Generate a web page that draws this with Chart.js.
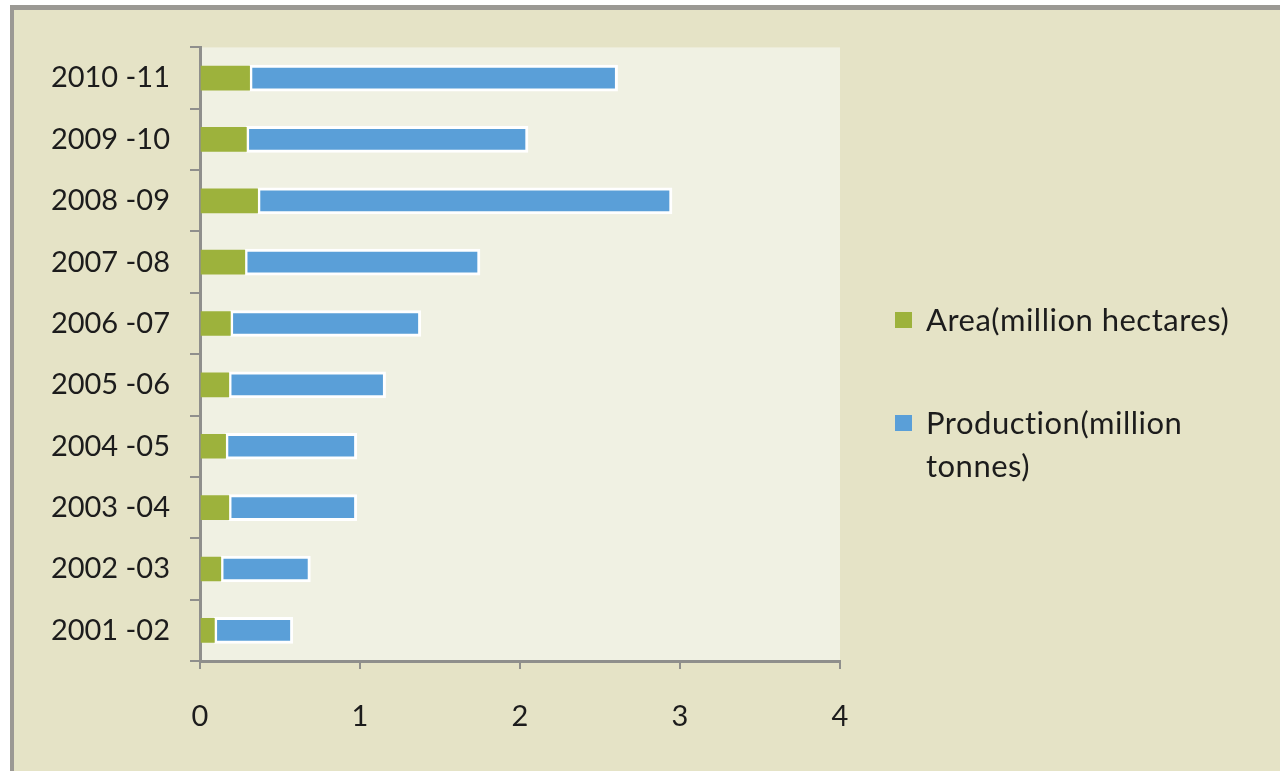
<!DOCTYPE html>
<html>
<head>
<meta charset="utf-8">
<script src="https://cdn.jsdelivr.net/npm/chart.js@4/dist/chart.umd.min.js"></script>
<style>
  html, body { margin: 0; padding: 0; background: #fff; }
  .frame {
    position: absolute; left: 10px; top: 5px; width: 1270px; height: 766px;
    box-sizing: border-box;
    border-top: 5px solid #9b9994; border-left: 4px solid #9b9994;
    background: #e5e3c6;
  }
  .frame canvas { position: absolute; left: 0; top: 0; }
  .legend {
    position: absolute; left: 881px; top: 288px; width: 340px;
    font-family: Lato, "Open Sans", sans-serif; font-size: 31px; letter-spacing: 0.5px; color: #1c1c1c;
  }
  .legend .item { position: relative; padding-left: 31px; line-height: 43px; margin-bottom: 60px; }
  .legend .box { position: absolute; left: 0; top: 14px; width: 17px; height: 16px; }
</style>
</head>
<body>
<div class="frame">
  <canvas id="areaChart" width="1266" height="761"></canvas>
  <div class="legend" id="legend"></div>
</div>
<script>
const seasons = ['2001 -02', '2002 -03', '2003 -04', '2004 -05', '2005 -06',
                 '2006 -07', '2007 -08', '2008 -09', '2009 -10', '2010 -11'];
const areaValues = [0.09, 0.13, 0.18, 0.16, 0.18, 0.19, 0.28, 0.36, 0.29, 0.31];
const productionValues = [0.49, 0.56, 0.80, 0.82, 0.98, 1.19, 1.47, 2.59, 1.76, 2.30];
const xTicks = [0, 1, 2, 3, 4];

const axisGray = '#8f8f8c';
const font = { family: 'Lato, "Open Sans", sans-serif', size: 29 };

// light panel behind the bars
const plotBg = {
  id: 'plotBg',
  beforeDraw(chart) {
    const { ctx, chartArea: a } = chart;
    ctx.save();
    ctx.fillStyle = '#f0f1e3';
    ctx.fillRect(a.left, a.top, a.right - a.left, a.bottom - a.top);
    ctx.restore();
  }
};

const chart = new Chart(document.getElementById('areaChart'), {
  type: 'bar',
  data: {
    labels: seasons,
    datasets: [{
      label: 'Area(million hectares)',
      data: areaValues,
      backgroundColor: '#9db23c',
      borderWidth: 0,
      barThickness: 24
    }, {
      label: 'Production(million tonnes)',
      data: productionValues,
      backgroundColor: '#5a9fd8',
      borderColor: '#ffffff',
      borderWidth: 3,
      borderSkipped: false,
      barThickness: 26
    }]
  },
  options: {
    indexAxis: 'y',
    responsive: false,
    animation: false,
    layout: { padding: { left: 0, right: 440, top: 37, bottom: 0 } },
    plugins: { legend: { display: false }, tooltip: { enabled: false } },
    scales: {
      x: {
        stacked: true,
        min: 0, max: 4,
        afterBuildTicks(scale) { scale.ticks = xTicks.map(v => ({ value: v })); },
        afterFit(scale) { scale.height = 110; },
        border: { color: axisGray, width: 3 },
        grid: { drawOnChartArea: false, color: axisGray, lineWidth: 2, tickLength: 8 },
        ticks: { font: font, color: '#1c1c1c', padding: 30 }
      },
      y: {
        stacked: true,
        reverse: true,
        afterFit(scale) { scale.width = 186; },
        border: { color: axisGray, width: 3 },
        grid: { offset: true, drawOnChartArea: false, color: axisGray, lineWidth: 2, tickLength: 10 },
        ticks: { font: font, color: '#1c1c1c', padding: 20 }
      }
    }
  },
  plugins: [plotBg]
});

// legend with wrapping labels, built from the datasets
const legend = document.getElementById('legend');
chart.data.datasets.forEach(ds => {
  const item = document.createElement('div');
  item.className = 'item';
  const box = document.createElement('span');
  box.className = 'box';
  box.style.background = ds.backgroundColor;
  item.appendChild(box);
  item.appendChild(document.createTextNode(ds.label));
  legend.appendChild(item);
});
</script>
</body>
</html>
